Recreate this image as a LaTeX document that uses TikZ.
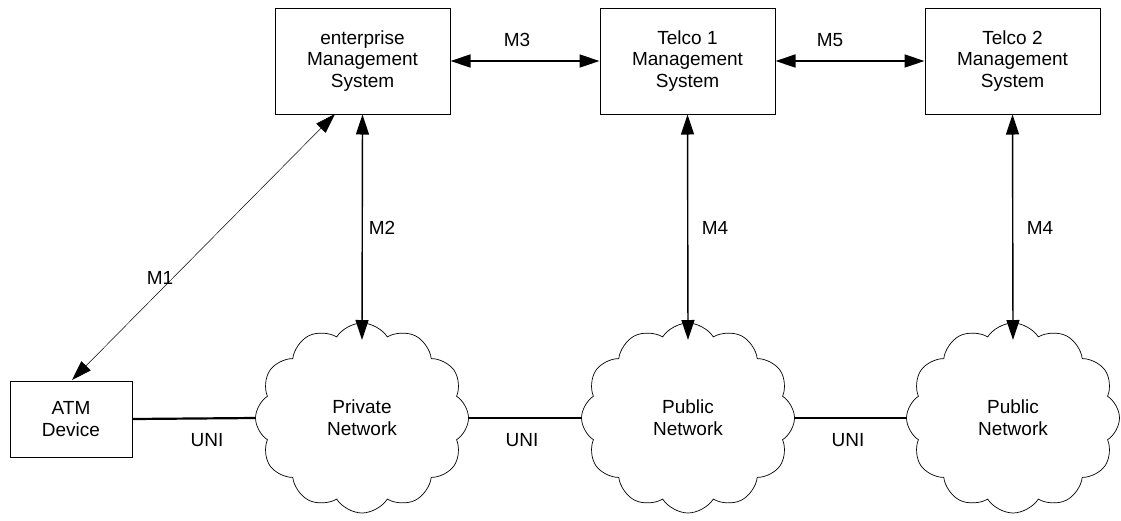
\documentclass[tikz,border=0pt]{standalone}
\usepackage{fontspec}
\setmainfont{Liberation Sans}
\usetikzlibrary{arrows.meta,shapes.symbols}
\begin{document}
\begin{tikzpicture}[x=1pt,y=-1pt,
  every node/.style={font=\fontsize{19}{21.7}\selectfont, align=center, inner sep=0pt},
  box/.style={draw, line width=1pt, minimum width=175pt, minimum height=106pt},
  devbox/.style={draw, line width=1pt, minimum width=122pt, minimum height=76pt},
  net/.style={cloud, draw, line width=0.7pt, cloud puffs=12, cloud puff arc=115, cloud ignores aspect, minimum width=213pt, minimum height=190pt},
  tip/.style={Triangle[length=20pt,width=13pt]},
  arr/.style={line width=1.4pt, {Triangle[length=20pt,width=13pt]}-{Triangle[length=20pt,width=13pt]}},
  thinarr/.style={line width=0.5pt, {Triangle[length=20pt,width=13pt]}-{Triangle[length=20pt,width=13pt]}},
  link/.style={line width=2.2pt},
  lbl/.style={}]
\useasboundingbox (0,0) rectangle (1121,520);
\node[box] (ems) at (362.5,61) {enterprise\\Management\\System};
\node[box] (t1) at (687.5,61) {Telco 1\\Management\\System};
\node[box] (t2) at (1012.5,61) {Telco 2\\Management\\System};
\node[devbox] (atm) at (71,419) {ATM\\Device};
\node[net] (pn) at (362,418) {Private\\Network};
\node[net] (pu1) at (688,418) {Public\\Network};
\node[net] (pu2) at (1013,418) {Public\\Network};
\coordinate (pnT) at (362,340);
\coordinate (pu1T) at (688,340);
\coordinate (pu2T) at (1013,340);
\coordinate (emsB) at (335,114);
\coordinate (atmT) at (72,380);
\draw[arr] (ems.east) -- (t1.west);
\draw[arr] (t1.east) -- (t2.west);
\draw[arr] (ems.south) -- (pnT);
\draw[arr] (t1.south) -- (pu1T);
\draw[arr] (t2.south) -- (pu2T);
\draw[thinarr] (emsB) -- (atmT);
\draw[link] (atm.east) -- (pn.west);
\draw[link] (pn.east) -- (pu1.west);
\draw[link] (pu1.east) -- (pu2.west);
\node[lbl] (m1) at (160,278) {M1};
\node[lbl] (m2) at (382,228) {M2};
\node[lbl] (m3) at (517,40) {M3};
\node[lbl] (m4a) at (715,228) {M4};
\node[lbl] (m4b) at (1040,228) {M4};
\node[lbl] (m5) at (830,40) {M5};
\node[lbl] (u1) at (207,440) {UNI};
\node[lbl] (u2) at (522,440) {UNI};
\node[lbl] (u3) at (848,440) {UNI};
\end{tikzpicture}
\end{document}
